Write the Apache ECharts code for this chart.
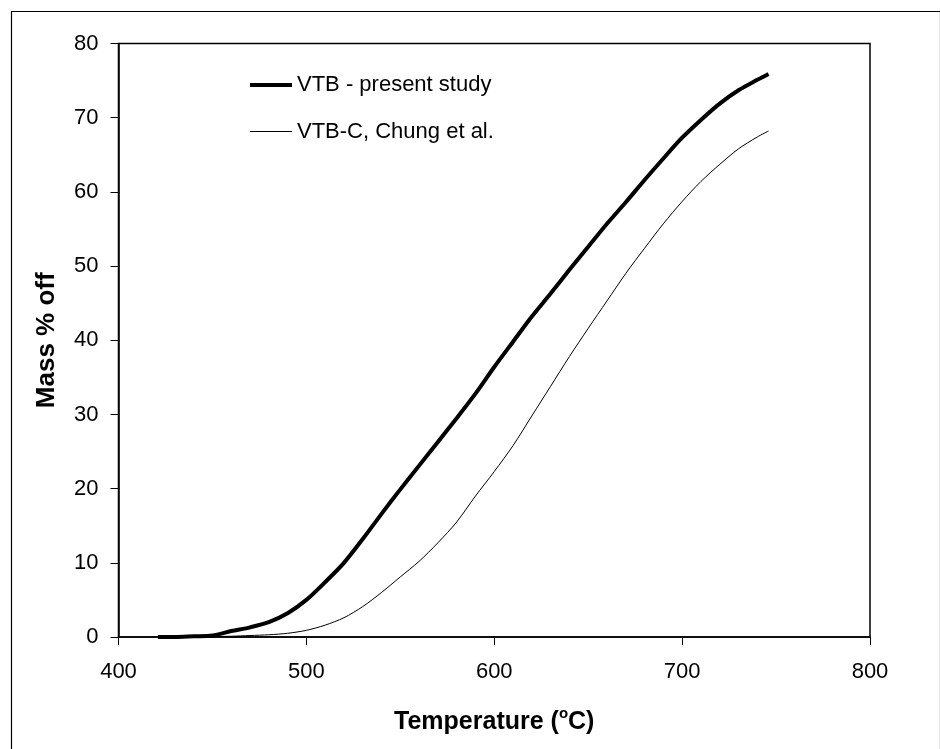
<!DOCTYPE html>
<html>
<head>
<meta charset="utf-8">
<script src="https://cdn.jsdelivr.net/npm/echarts@6/dist/echarts.min.js"></script>
<style>
html,body{margin:0;padding:0;background:#fff;}
#chart{width:940px;height:749px;}
</style>
</head>
<body>
<div id="chart"></div>
<script>
var seriesNames = ['VTB - present study', 'VTB-C, Chung et al.'];
var xTicks = [400, 500, 600, 700, 800];
var yTicks = [0, 10, 20, 30, 40, 50, 60, 70, 80];

var tempVTB = [421, 430, 440, 450, 460, 470, 480, 490, 500, 510, 520, 530, 540, 550, 560, 570, 580, 590, 600, 610, 620, 630, 640, 650, 660, 670, 680, 690, 700, 710, 720, 730, 740, 746];
var massVTB = [0, 0, 0.1, 0.2, 0.8, 1.3, 2.0, 3.2, 5.0, 7.4, 10.0, 13.2, 16.6, 19.9, 23.1, 26.3, 29.5, 32.8, 36.4, 39.8, 43.2, 46.3, 49.5, 52.6, 55.7, 58.6, 61.6, 64.5, 67.3, 69.7, 71.9, 73.7, 75.1, 75.9];

var tempChung = [425, 440, 450, 460, 470, 480, 490, 500, 510, 520, 530, 540, 550, 560, 570, 580, 590, 600, 610, 620, 630, 640, 650, 660, 670, 680, 690, 700, 710, 720, 730, 740, 746];
var massChung = [0, 0, 0.05, 0.1, 0.2, 0.3, 0.5, 0.9, 1.6, 2.6, 4.1, 6.0, 8.1, 10.2, 12.7, 15.5, 19.0, 22.3, 25.8, 29.8, 33.8, 37.8, 41.6, 45.3, 49.0, 52.4, 55.7, 58.7, 61.4, 63.7, 65.8, 67.4, 68.2];

function pairs(xs, ys) { return xs.map(function (x, i) { return [x, ys[i]]; }); }

var FONT = '"Liberation Sans", Arial, sans-serif';
function legendFor(name, top, thick) {
  return {
    orient: 'vertical', left: 245, top: top,
    icon: 'rect', itemWidth: 42, itemHeight: thick,
    textStyle: {fontFamily: FONT, fontSize: 22, color: '#000'},
    itemStyle: {color: '#000', borderWidth: 0},
    lineStyle: {width: 0},
    data: [name]
  };
}
var chart = echarts.init(document.getElementById('chart'), null, {renderer: 'canvas'});
chart.setOption({
  backgroundColor: '#fff',
  animation: false,
  textStyle: {fontFamily: FONT, color: '#000'},
  grid: {left: 118.5, right: 70, top: 43.5, bottom: 112, show: true, borderColor: '#000', borderWidth: 1.5, backgroundColor: 'transparent'},
  legend: [legendFor(seriesNames[0], 69, 4), legendFor(seriesNames[1], 115.5, 1.2)],
  xAxis: {
    type: 'value', min: xTicks[0], max: xTicks[xTicks.length - 1], interval: 100,
    name: 'Temperature ({sup|o}C)', nameLocation: 'middle', nameGap: 69,
    nameTextStyle: {fontFamily: FONT, fontSize: 25, fontWeight: 'bold', color: '#000',
      rich: {sup: {fontFamily: FONT, fontSize: 15, fontWeight: 'bold', color: '#000', padding: [0, 0, 18, 0]}}},
    axisLine: {lineStyle: {color: '#000', width: 1.5}},
    axisTick: {length: 8, lineStyle: {color: '#000', width: 1}},
    axisLabel: {fontFamily: FONT, fontSize: 22, color: '#000', margin: 24},
    splitLine: {show: false}
  },
  yAxis: {
    type: 'value', min: yTicks[0], max: yTicks[yTicks.length - 1], interval: 10,
    name: 'Mass % off', nameLocation: 'middle', nameGap: 59,
    nameTextStyle: {fontFamily: FONT, fontSize: 26, fontWeight: 'bold', color: '#000'},
    axisLine: {lineStyle: {color: '#000', width: 1.5}},
    axisTick: {length: 8, lineStyle: {color: '#000', width: 1}},
    axisLabel: {fontFamily: FONT, fontSize: 22, color: '#000', margin: 20},
    splitLine: {show: false}
  },
  graphic: [{
    type: 'rect', left: 9, top: 9, silent: true,
    shape: {width: 929, height: 738},
    style: {fill: 'none', stroke: '#000', lineWidth: 1.2}
  }],
  series: [{
    name: seriesNames[0], type: 'line', data: pairs(tempVTB, massVTB),
    showSymbol: false, symbol: 'none', smooth: 0.3,
    lineStyle: {color: '#000', width: 4}, itemStyle: {color: '#000'}
  }, {
    name: seriesNames[1], type: 'line', data: pairs(tempChung, massChung),
    showSymbol: false, symbol: 'none', smooth: 0.3,
    lineStyle: {color: '#000', width: 1}, itemStyle: {color: '#000'}
  }]
});
</script>
</body>
</html>
